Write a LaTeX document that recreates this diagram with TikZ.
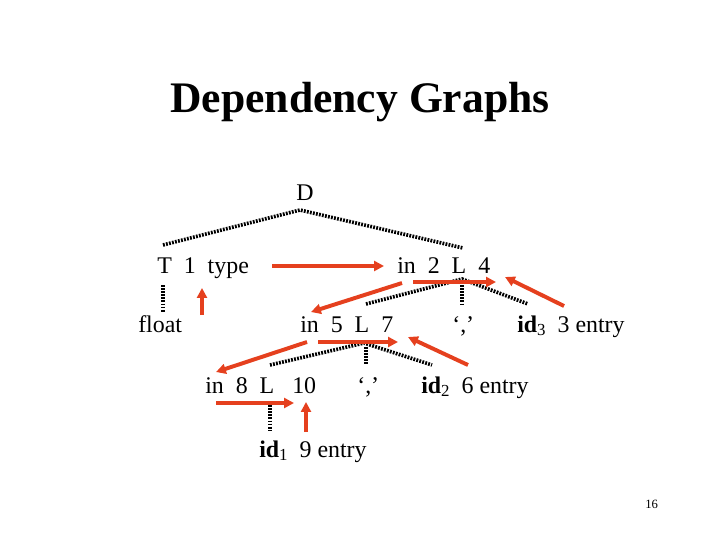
\documentclass[tikz,border=0pt]{standalone}
\usepackage{fontspec}
\setmainfont{Liberation Serif}
\usetikzlibrary{arrows.meta}
\definecolor{arrred}{HTML}{E5401E}
\newcommand{\sbs}[1]{\raisebox{-0.35ex}{\fontsize{12}{12}\selectfont #1}}
\tikzset{
  lbl/.style={inner sep=0pt, anchor=base west, font=\fontsize{17}{20}\selectfont},
  dep/.style={draw=arrred, line width=2.8pt, -{Triangle[length=7pt,width=7pt]}},
  tree/.style={draw=black, line width=2.6pt, dash pattern=on 1.3pt off 0.9pt}
}
\begin{document}
\begin{tikzpicture}[x=0.025cm,y=-0.025cm]
\useasboundingbox (0,0) rectangle (720,540);
% title
\node[inner sep=0pt, anchor=base, font=\fontsize{31}{36}\selectfont\bfseries] (title) at (360,112) {Dependency Graphs};
% labels
\node[lbl] (D) at (296,200) {D};
\node[lbl] (T) at (157,273) {T\ \ 1\ \ type};
\node[lbl] (L2) at (397,273) {in\ \ 2\ \ L\ \ 4};
\node[lbl] (flt) at (138,332) {float};
\node[lbl] (L5) at (300,332) {in\ \ 5\ \ L\ \ 7};
\node[lbl] (c1) at (452,332) {‘,’};
\node[lbl] (id3) at (517,332) {\textbf{id}\sbs{3}\ \ 3 entry};
\node[lbl] (L8) at (205,393) {in\ \ 8\ \ L\ \ \ 10};
\node[lbl] (c2) at (357,393) {‘,’};
\node[lbl] (id2) at (421,393) {\textbf{id}\sbs{2}\ \ 6 entry};
\node[lbl] (id1) at (259,457) {\textbf{id}\sbs{1}\ \ 9 entry};
\node[inner sep=0pt, anchor=base west, font=\fontsize{9}{10}\selectfont] (pg) at (645,508) {16};
% tree coordinates
\coordinate (aD) at (300,210);
\coordinate (aDl) at (163,245);
\coordinate (aDr) at (463,248);
\coordinate (a2) at (462,279);
\coordinate (a2l) at (366,304);
\coordinate (a2m) at (462,304);
\coordinate (a2r) at (528,304);
\coordinate (tT) at (163,285);
\coordinate (bT) at (163,312);
\coordinate (a5) at (364,343);
\coordinate (a5l) at (270,365);
\coordinate (a5m) at (366,365);
\coordinate (a5r) at (432,365);
\coordinate (t8) at (270,402);
\coordinate (b8) at (270,431);
% dotted tree edges
\draw[tree] (aDl) -- (aD) -- (aDr);
\draw[tree] (a2l) -- (a2) -- (a2r);
\draw[tree] (462,285) -- (a2m);
\draw[tree] (tT) -- (bT);
\draw[tree] (a5l) -- (a5) -- (a5r);
\draw[tree] (366,347) -- (a5m);
\draw[tree] (t8) -- (b8);
% dependency arrow endpoints
\coordinate (e1s) at (272,266); \coordinate (e1e) at (384,266);
\coordinate (e2s) at (202,315); \coordinate (e2e) at (202,288);
\coordinate (e3s) at (413,282); \coordinate (e3e) at (496,282);
\coordinate (e4s) at (564,306); \coordinate (e4e) at (505,277);
\coordinate (e5s) at (402,283); \coordinate (e5e) at (311,312);
\coordinate (e6s) at (318,342); \coordinate (e6e) at (398,342);
\coordinate (e7s) at (468,365); \coordinate (e7e) at (408,337);
\coordinate (e8s) at (307,342); \coordinate (e8e) at (216,372);
\coordinate (e9s) at (216,403); \coordinate (e9e) at (294,403);
\coordinate (e10s) at (306,432); \coordinate (e10e) at (306,402);
% dependency arrows
\draw[dep] (e1s) -- (e1e);
\draw[dep] (e2s) -- (e2e);
\draw[dep] (e3s) -- (e3e);
\draw[dep] (e4s) -- (e4e);
\draw[dep] (e5s) -- (e5e);
\draw[dep] (e6s) -- (e6e);
\draw[dep] (e7s) -- (e7e);
\draw[dep] (e8s) -- (e8e);
\draw[dep] (e9s) -- (e9e);
\draw[dep] (e10s) -- (e10e);
\end{tikzpicture}
\end{document}
